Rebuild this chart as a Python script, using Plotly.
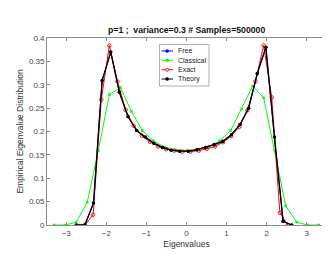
import plotly.graph_objects as go

# Theory / Free (same curve; Free hidden below Theory)
theory_x = [-2.75, -2.535, -2.32, -2.105, -1.89, -1.675, -1.46, -1.245, -1.03, -0.815,
            -0.60, -0.385, -0.17, 0.045, 0.26, 0.475, 0.69, 0.905, 1.12, 1.335,
            1.55, 1.765, 1.98, 2.195, 2.41, 2.625]
theory_y = [0.0, 0.0, 0.047, 0.309, 0.370, 0.284, 0.232, 0.202, 0.188, 0.175,
            0.166, 0.160, 0.158, 0.158, 0.161, 0.166, 0.172, 0.179, 0.193, 0.215,
            0.250, 0.324, 0.380, 0.188, 0.008, 0.0]
free_x = theory_x
free_y = theory_y

exact_x = [-2.531, -2.329, -2.126, -1.924, -1.721, -1.519, -1.316, -1.114, -0.911, -0.709,
           -0.506, -0.304, -0.101, 0.101, 0.304, 0.506, 0.709, 0.911, 1.114, 1.316,
           1.519, 1.721, 1.924, 2.126, 2.329, 2.531]
exact_y = [0.0, 0.022, 0.268, 0.384, 0.307, 0.246, 0.212, 0.191, 0.178, 0.168,
           0.162, 0.159, 0.157, 0.157, 0.159, 0.163, 0.168, 0.177, 0.190, 0.210,
           0.245, 0.307, 0.384, 0.273, 0.026, 0.0]

classical_x = [-3.3, -3.025, -2.75, -2.475, -2.2, -1.925, -1.65, -1.375, -1.1, -0.825,
               -0.55, -0.275, 0.0, 0.275, 0.55, 0.825, 1.1, 1.375, 1.65, 1.925,
               2.2, 2.475, 2.75, 3.025, 3.3]
classical_y = [0.0, 0.0, 0.006, 0.049, 0.159, 0.279, 0.294, 0.243, 0.202, 0.180,
               0.167, 0.161, 0.159, 0.161, 0.167, 0.180, 0.202, 0.248, 0.297, 0.272,
               0.160, 0.041, 0.006, 0.0, 0.0]

x_ticks = [-3, -2, -1, 0, 1, 2, 3]
y_ticks = [0, 0.05, 0.1, 0.15, 0.2, 0.25, 0.3, 0.35, 0.4]
y_tick_text = ["0", "0.05", "0.1", "0.15", "0.2", "0.25", "0.3", "0.35", "0.4"]

series_names = ["Free", "Classical", "Exact", "Theory"]
series_colors = ["#0000ff", "#00ff00", "#ff0000", "#000000"]

fig = go.Figure()
fig.add_trace(go.Scatter(x=free_x, y=free_y, mode="lines+markers", name="Free",
                         line=dict(color=series_colors[0], width=1),
                         marker=dict(symbol="circle", size=3, color=series_colors[0])))
fig.add_trace(go.Scatter(x=classical_x, y=classical_y, mode="lines+markers", name="Classical",
                         line=dict(color=series_colors[1], width=1),
                         marker=dict(symbol="square", size=2.5, color=series_colors[1])))
fig.add_trace(go.Scatter(x=exact_x, y=exact_y, mode="lines+markers", name="Exact",
                         line=dict(color=series_colors[2], width=1),
                         marker=dict(symbol="circle-open", size=3.5, color=series_colors[2],
                                     line=dict(width=0.9))))
fig.add_trace(go.Scatter(x=theory_x, y=theory_y, mode="lines+markers", name="Theory",
                         line=dict(color=series_colors[3], width=1.3),
                         marker=dict(symbol="circle", size=3.5, color=series_colors[3])))

FONT = "Liberation Sans, Arial, sans-serif"
L, R, T, B = 39, 12, 30, 38
W, H = 330, 255
pw, ph = W - L - R, H - T - B

def px2paper(px, py):
    return (px - L) / pw, (H - B - py) / ph

shapes = []
annotations = []
# manual legend
x0, y0 = px2paper(151.5, 36.5)
x1, y1 = px2paper(201, 78)
shapes.append(dict(type="rect", xref="paper", yref="paper", x0=x0, y0=y1, x1=x1, y1=y0,
                   line=dict(color="#9a9a9a", width=0.8), fillcolor="white", layer="above"))
entry_y = [43, 52.3, 61.7, 71]
marker_syms = ["circle", "square", "circle-open", "circle"]
for name, col, ey, sym in zip(series_names, series_colors, entry_y, marker_syms):
    lx0, ly = px2paper(153.5, ey)
    lx1, _ = px2paper(165, ey)
    shapes.append(dict(type="line", xref="paper", yref="paper", x0=lx0, x1=lx1, y0=ly, y1=ly,
                       line=dict(color=col, width=1), layer="above"))
    mx, my = px2paper(159.2, ey)
    r = 1.5
    if sym == "circle-open":
        shapes.append(dict(type="circle", xref="paper", yref="paper", xsizemode="pixel",
                           ysizemode="pixel", xanchor=mx, yanchor=my, x0=-r, x1=r, y0=-r, y1=r,
                           line=dict(color=col, width=0.9), fillcolor="white", layer="above"))
    elif sym == "square":
        shapes.append(dict(type="rect", xref="paper", yref="paper", xsizemode="pixel",
                           ysizemode="pixel", xanchor=mx, yanchor=my, x0=-1.2, x1=1.2, y0=-1.2, y1=1.2,
                           line=dict(color=col, width=0.5), fillcolor=col, layer="above"))
    else:
        shapes.append(dict(type="circle", xref="paper", yref="paper", xsizemode="pixel",
                           ysizemode="pixel", xanchor=mx, yanchor=my, x0=-r, x1=r, y0=-r, y1=r,
                           line=dict(color=col, width=0.5), fillcolor=col, layer="above"))
    tx, ty = px2paper(167.5, ey)
    annotations.append(dict(xref="paper", yref="paper", x=tx, y=ty, text=name, showarrow=False,
                            xanchor="left", yanchor="middle",
                            font=dict(family=FONT, size=7, color="#222")))

annotations.append(dict(xref="paper", yref="paper", x=0.5, y=1, yanchor="bottom", yshift=1,
                        text="<b>p=1 ;  variance=0.3 # Samples=500000</b>", showarrow=False,
                        font=dict(family=FONT, size=8.7, color="#111")))

axis_common = dict(showline=True, linecolor="#8c8c8c", linewidth=0.8, mirror="ticks",
                   ticks="inside", ticklen=3, tickcolor="#8c8c8c", tickwidth=0.8,
                   showgrid=False, zeroline=False,
                   tickfont=dict(family=FONT, size=8, color="#444"))

fig.update_layout(
    width=W, height=H,
    margin=dict(l=L, r=R, t=T, b=B, pad=0),
    paper_bgcolor="white", plot_bgcolor="white",
    showlegend=False,
    shapes=shapes, annotations=annotations,
    xaxis=dict(range=[-3.48, 3.48], tickvals=x_ticks,
               title=dict(text="Eigenvalues", font=dict(family=FONT, size=8.5, color="#333"), standoff=4),
               **axis_common),
    yaxis=dict(range=[0, 0.4], tickvals=y_ticks, ticktext=y_tick_text,
               title=dict(text="Empirical Eigenvalue Distribution",
                          font=dict(family=FONT, size=8.5, color="#333"), standoff=3),
               **axis_common),
)

fig.write_html("out.html")
